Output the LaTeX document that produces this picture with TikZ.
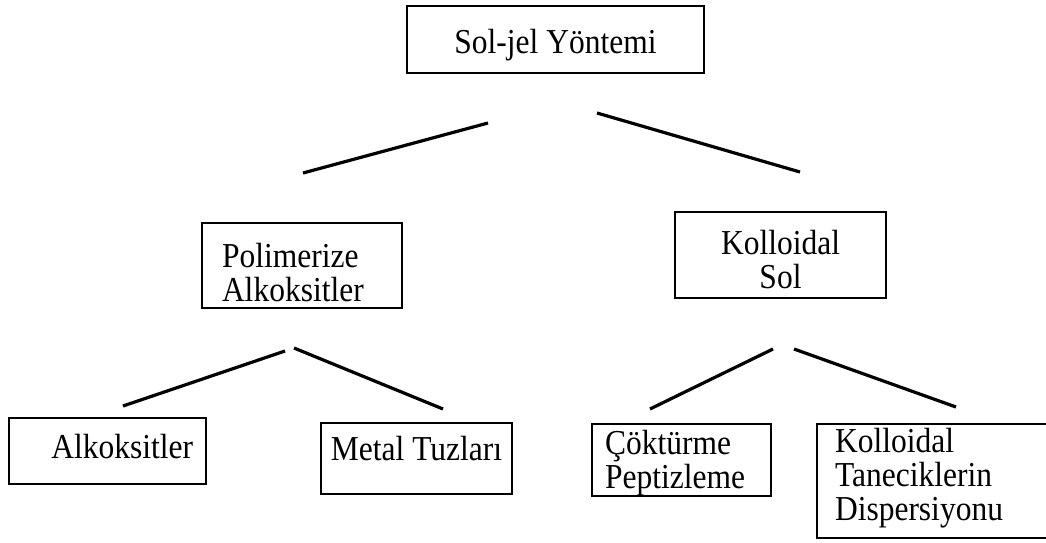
\documentclass[tikz,border=0pt]{standalone}
\usepackage{fontspec}
\setmainfont{Liberation Serif}[FakeStretch=0.9]
\tikzset{
  box/.style  = {rectangle, draw=black, line width=2.5pt, inner sep=0pt,
                 font=\fontsize{35}{34}\selectfont},
  link/.style = {line width=3.2pt, draw=black},
}

\begin{document}
\begin{tikzpicture}[x=1pt, y=-1pt]

  \useasboundingbox[fill=white] (0,0) rectangle (1046,542);

  \node[box, minimum width=297pt, minimum height=67pt,
        text height=27pt, text depth=0pt] (sol) at (555.5,39.5) {Sol-jel Yöntemi};

  \node[box, minimum width=200pt, minimum height=85pt, text width=160pt, align=left,
        text height=3pt, text depth=0pt] (pol) at (302,265.5) {Polimerize\\Alkoksitler};
  \node[box, minimum width=211pt, minimum height=86pt, text width=150pt, align=center,
        text height=0pt, text depth=2pt] (kol) at (780.5,255) {Kolloidal\\Sol};

  \node[box, minimum width=197pt, minimum height=66pt, text width=171pt, align=right,
        text height=14pt, text depth=0pt] (alk) at (107.5,451) {Alkoksitler};
  \node[box, minimum width=191pt, minimum height=71pt,
        text height=3pt, text depth=0pt] (met) at (416.5,458.5) {Metal Tuzları};
  \node[box, minimum width=179pt, minimum height=72pt, text width=153pt, align=left,
        text height=0pt, text depth=12pt] (cok) at (681.5,460) {Çöktürme\\Peptizleme};
  \node[box, minimum width=231pt, minimum height=114pt, text width=195pt, align=left,
        text height=0pt, text depth=58pt] (tan) at (932.5,481)
        {Kolloidal\\Taneciklerin\\Dispersiyonu};

  % free ends of the branch lines
  \coordinate (solL) at (488,123);  \coordinate (polT) at (303,173);
  \coordinate (solR) at (597,113);  \coordinate (kolT) at (800,172);
  \coordinate (polL) at (285,351);  \coordinate (alkT) at (123,406);
  \coordinate (polR) at (294,348);  \coordinate (metT) at (443,409);
  \coordinate (kolL) at (773,349);  \coordinate (cokT) at (650,409);
  \coordinate (kolR) at (794,349);  \coordinate (tanT) at (956,407);

  \draw[link] (solL) -- (polT);
  \draw[link] (solR) -- (kolT);
  \draw[link] (polL) -- (alkT);
  \draw[link] (polR) -- (metT);
  \draw[link] (kolL) -- (cokT);
  \draw[link] (kolR) -- (tanT);

\end{tikzpicture}
\end{document}
